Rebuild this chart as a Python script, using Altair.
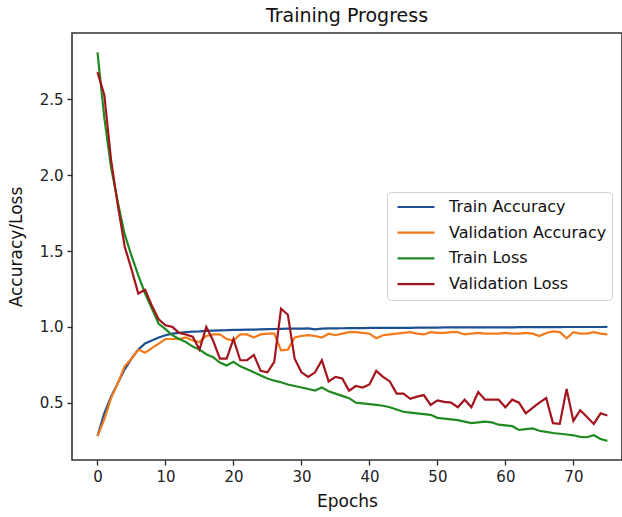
import altair as alt
import pandas as pd

epochs = list(range(76))

train_acc = [0.28, 0.43, 0.54, 0.63, 0.72, 0.79, 0.85, 0.89, 0.91, 0.93,
             0.945, 0.955, 0.96, 0.965, 0.968, 0.97, 0.973, 0.975, 0.977, 0.978,
             0.98, 0.98, 0.982, 0.982, 0.984, 0.985, 0.986, 0.987, 0.988, 0.988,
             0.989, 0.99, 0.983, 0.988, 0.99, 0.99, 0.991, 0.992, 0.992, 0.992,
             0.993, 0.993, 0.993, 0.993, 0.994, 0.994, 0.994, 0.995, 0.995, 0.995,
             0.995, 0.996, 0.996, 0.996, 0.996, 0.996, 0.997, 0.997, 0.997, 0.997,
             0.997, 0.997, 0.998, 0.998, 0.998, 0.998, 0.998, 0.998, 0.998, 0.999,
             0.999, 0.999, 0.999, 0.999, 0.999, 1.0]

val_acc = [0.28, 0.39, 0.53, 0.63, 0.74, 0.79, 0.85, 0.83, 0.86, 0.89,
           0.92, 0.92, 0.92, 0.93, 0.91, 0.90, 0.94, 0.95, 0.95, 0.92,
           0.91, 0.95, 0.95, 0.93, 0.95, 0.955, 0.955, 0.845, 0.85, 0.93,
           0.94, 0.945, 0.94, 0.93, 0.955, 0.945, 0.955, 0.965, 0.965, 0.96,
           0.955, 0.925, 0.945, 0.95, 0.955, 0.96, 0.965, 0.955, 0.95, 0.965,
           0.96, 0.96, 0.965, 0.965, 0.95, 0.955, 0.96, 0.955, 0.955, 0.955,
           0.96, 0.955, 0.955, 0.96, 0.955, 0.94, 0.96, 0.97, 0.965, 0.925,
           0.965, 0.955, 0.955, 0.965, 0.955, 0.95]

train_loss = [2.81, 2.38, 2.05, 1.82, 1.61, 1.47, 1.34, 1.22, 1.12, 1.02,
              0.985, 0.945, 0.92, 0.90, 0.87, 0.85, 0.82, 0.80, 0.765, 0.745,
              0.77, 0.74, 0.72, 0.70, 0.68, 0.66, 0.645, 0.635, 0.62, 0.61,
              0.60, 0.59, 0.58, 0.60, 0.575, 0.56, 0.545, 0.53, 0.50, 0.495,
              0.49, 0.485, 0.48, 0.47, 0.455, 0.44, 0.435, 0.43, 0.425, 0.42,
              0.40, 0.395, 0.39, 0.385, 0.375, 0.365, 0.37, 0.375, 0.37, 0.355,
              0.35, 0.345, 0.32, 0.325, 0.33, 0.315, 0.307, 0.30, 0.295, 0.29,
              0.285, 0.275, 0.272, 0.285, 0.26, 0.248]

val_loss = [2.68, 2.53, 2.10, 1.80, 1.53, 1.38, 1.22, 1.245, 1.14, 1.05,
            1.01, 1.0, 0.96, 0.95, 0.935, 0.85, 1.0, 0.91, 0.79, 0.79,
            0.92, 0.78, 0.78, 0.815, 0.71, 0.70, 0.77, 1.12, 1.08, 0.79,
            0.70, 0.67, 0.70, 0.78, 0.64, 0.67, 0.66, 0.58, 0.61, 0.60,
            0.62, 0.71, 0.67, 0.64, 0.56, 0.56, 0.525, 0.54, 0.55, 0.485,
            0.515, 0.505, 0.50, 0.47, 0.52, 0.47, 0.57, 0.52, 0.52, 0.52,
            0.47, 0.52, 0.50, 0.43, 0.465, 0.50, 0.53, 0.365, 0.36, 0.59,
            0.38, 0.45, 0.405, 0.36, 0.43, 0.415]

series_names = ["Train Accuracy", "Validation Accuracy", "Train Loss", "Validation Loss"]
series_colors = ["#1d4f91", "#f27a1a", "#1f8a1f", "#a3141c"]
x_ticks = [0, 10, 20, 30, 40, 50, 60, 70]
y_ticks = [0.5, 1.0, 1.5, 2.0, 2.5]

rows = []
for name, vals in zip(series_names, [train_acc, val_acc, train_loss, val_loss]):
    for e, v in zip(epochs, vals):
        rows.append({"Epoch": e, "Value": v, "Series": name})
df = pd.DataFrame(rows)

FONT = "DejaVu Sans"

chart = alt.Chart(df).mark_line(strokeWidth=2.2).encode(
    x=alt.X("Epoch:Q",
            scale=alt.Scale(domain=[-3.75, 77.15], nice=False, zero=False),
            axis=alt.Axis(values=x_ticks, title="Epochs", format="d",
                          titleFontSize=17, titlePadding=9)),
    y=alt.Y("Value:Q",
            scale=alt.Scale(domain=[0.122, 2.938], nice=False, zero=False),
            axis=alt.Axis(values=y_ticks, title="Accuracy/Loss", format=".1f",
                          titleFontSize=17, titlePadding=14)),
    color=alt.Color("Series:N",
                    scale=alt.Scale(domain=series_names, range=series_colors),
                    legend=alt.Legend(
                        title=None, orient="none", legendX=315, legendY=159,
                        padding=5, fillColor="white", strokeColor="#cfcfcf",
                        cornerRadius=4, symbolType="stroke", symbolSize=1369,
                        symbolStrokeWidth=2.2, symbolOffset=4, labelOffset=13,
                        labelFontSize=16, labelFont=FONT, labelColor="#111",
                        clipHeight=20, rowPadding=5.7, labelLimit=300)),
    order=alt.Order("Epoch:Q"),
).properties(
    width=550,
    height=427,
    title=alt.TitleParams("Training Progress", fontSize=19, font=FONT,
                          fontWeight="normal", color="#111", offset=7),
    autosize=alt.AutoSizeParams(type="none"),
    padding={"left": 72, "top": 33, "right": 0, "bottom": 57},
).configure_view(
    stroke="#333", strokeWidth=1.6
).configure_axis(
    domain=False, grid=False, tickColor="#222", tickSize=5, tickWidth=1.3,
    labelFont=FONT, labelFontSize=15, labelColor="#222", labelPadding=4,
    titleFont=FONT, titleFontWeight="normal", titleColor="#111"
)

chart.save("out.html", embed_options={"renderer": "svg", "actions": False})
